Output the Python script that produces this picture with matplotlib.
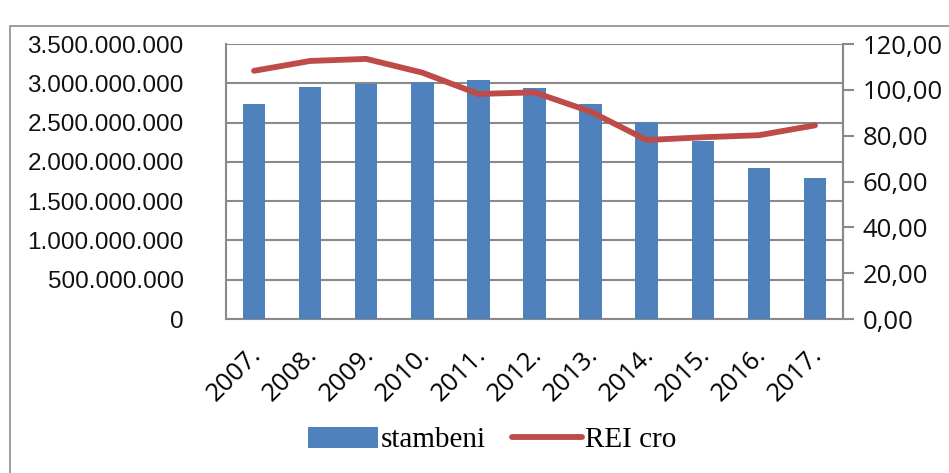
import matplotlib
matplotlib.use("Agg")
import matplotlib.pyplot as plt
import matplotlib.transforms as mtransforms
from matplotlib.patches import Rectangle
from matplotlib.ticker import FuncFormatter, MultipleLocator

years = ["2007.", "2008.", "2009.", "2010.", "2011.", "2012.",
         "2013.", "2014.", "2015.", "2016.", "2017."]
stambeni = [2.736e9, 2.949e9, 2.987e9, 3.020e9, 3.046e9, 2.940e9,
            2.736e9, 2.503e9, 2.270e9, 1.926e9, 1.795e9]
rei_cro = [108.3, 112.6, 113.5, 107.5, 98.2, 98.9,
           90.5, 78.1, 79.3, 80.2, 84.5]

W, H = 949, 473
fig = plt.figure(figsize=(W / 100, H / 100), dpi=100)
fig.patch.set_facecolor("white")

# outer frame of the chart area
fig.patches.append(Rectangle((10 / W, -0.2), 1.2, 1 - 26 / H + 0.2,
                             transform=fig.transFigure, fill=False,
                             edgecolor="#8c8c8c", linewidth=1.2))

ax = fig.add_axes([226 / W, 1 - 319 / H, (843 - 226) / W, (319 - 44) / H])
grid_col = "#8a8a8a"
x = list(range(len(years)))
ax.bar(x, stambeni, width=0.4, color="#4F81BD", zorder=3, label="stambeni")
ax.set_xlim(-0.5, len(years) - 0.5)
ax.set_ylim(0, 3.5e9)
ax.yaxis.set_major_locator(MultipleLocator(5e8))
ax.yaxis.set_major_formatter(FuncFormatter(
    lambda v, p: "0" if v == 0 else f"{int(round(v)):,}".replace(",", ".")))
ax.grid(axis="y", color=grid_col, linewidth=1.5, zorder=0)
ax.set_axisbelow(True)
ax.spines["top"].set_visible(False)
for s in ["left", "bottom", "right"]:
    ax.spines[s].set_color(grid_col)
    ax.spines[s].set_linewidth(1.5)
ax.tick_params(axis="y", length=0, pad=30.5, labelsize=17.5, labelcolor="#111111")
ax.tick_params(axis="x", length=0, pad=6)
ax.set_xticks(x)
ax.set_xticklabels(years, rotation=45, ha="right", rotation_mode="anchor",
                   fontsize=18.5, family="Open Sans")
for t in ax.get_yticklabels():
    t.set_family("Liberation Sans")
shift = mtransforms.ScaledTranslation(-5 / 100, 0, fig.dpi_scale_trans)
for t in ax.get_xticklabels():
    t.set_y(-0.055)
    t.set_transform(t.get_transform() + shift)

ax2 = ax.twinx()
ax2.plot(x, rei_cro, color="#BE4B48", linewidth=4.2, solid_capstyle="round",
         solid_joinstyle="round", zorder=4, label="REI cro")
ax2.set_ylim(0, 120)
ax2.yaxis.set_major_locator(MultipleLocator(20))
ax2.yaxis.set_major_formatter(FuncFormatter(lambda v, p: f"{v:.2f}".replace(".", ",")))
ax2.tick_params(axis="y", length=8, width=1.5, color=grid_col, pad=6,
                labelsize=18.5, labelcolor="#111111")
for t in ax2.get_yticklabels():
    t.set_family("Open Sans")
for s in ["top", "left", "bottom"]:
    ax2.spines[s].set_visible(False)
ax2.spines["right"].set_color(grid_col)
ax2.spines["right"].set_linewidth(1.5)

h1, l1 = ax.get_legend_handles_labels()
h2, l2 = ax2.get_legend_handles_labels()
fig.legend(h1 + h2, l1 + l2, loc="center", bbox_to_anchor=(492 / W, 1 - 440 / H),
           ncol=2, frameon=False, prop={"family": "Liberation Serif", "size": 21},
           handlelength=2.4, handleheight=0.75, handletextpad=0.1, columnspacing=0.9)

fig.savefig("out.png", dpi=100, facecolor="white")
